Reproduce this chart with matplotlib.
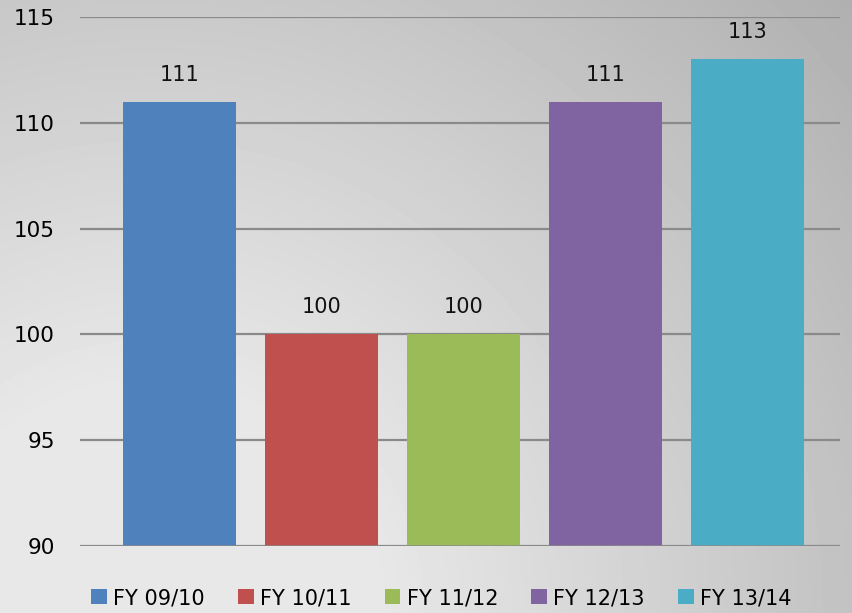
import numpy as np
import matplotlib
matplotlib.use("Agg")
import matplotlib.pyplot as plt
from matplotlib.patches import Patch

categories = ["FY 09/10", "FY 10/11", "FY 11/12", "FY 12/13", "FY 13/14"]
values = [111, 100, 100, 111, 113]
colors = ["#4F81BD", "#C0504D", "#9BBB59", "#8064A2", "#4BACC6"]
yticks = [90, 95, 100, 105, 110, 115]

W, H = 852, 613
fig = plt.figure(figsize=(W / 100, H / 100), dpi=100)

# gray radial-ish background, light at lower left, darker toward top right
bg = fig.add_axes([0, 0, 1, 1], zorder=-10)
yy, xx = np.mgrid[0:H, 0:W]
d = np.hypot(xx - 150, yy - 613)
v = np.clip(250 - 0.08 * d, 0, 232) / 255.0
bg.imshow(v, cmap="gray", vmin=0, vmax=1, aspect="auto", extent=[0, 1, 0, 1])
bg.axis("off")

ax = fig.add_axes([80 / W, 1 - 546 / H, 760 / W, (546 - 17) / H])
ax.patch.set_alpha(0)

x = np.arange(len(categories))
ax.bar(x, [v_ - 90 for v_ in values], bottom=90, width=0.8,
       color=colors, zorder=3)
for xi, val in zip(x, values):
    ax.text(xi, val + 0.8, str(val), ha="center", va="bottom",
            fontsize=15, color="#111111")

ax.set_ylim(90, 115)
ax.set_xlim(-0.7, 4.65)
ax.set_yticks(yticks)
ax.set_yticklabels([str(t) for t in yticks], fontsize=15.5)
ax.tick_params(axis="y", length=0, pad=18)
ax.set_xticks([])
ax.grid(axis="y", color="#8a8a8a", linewidth=1.6, zorder=1)
for s in ax.spines.values():
    s.set_visible(False)
ax.axhline(90, color="#8a8a8a", linewidth=1.8, zorder=4)

handles = [Patch(facecolor=c, edgecolor="none") for c in colors]
fig.legend(handles, categories, loc="center", bbox_to_anchor=(0.518, 1 - 598 / H),
           ncol=5, frameon=False, handlelength=0.75, handleheight=0.75,
           handletextpad=0.3, columnspacing=1.6, prop={"size": 15})

fig.savefig("out.png", dpi=100)
